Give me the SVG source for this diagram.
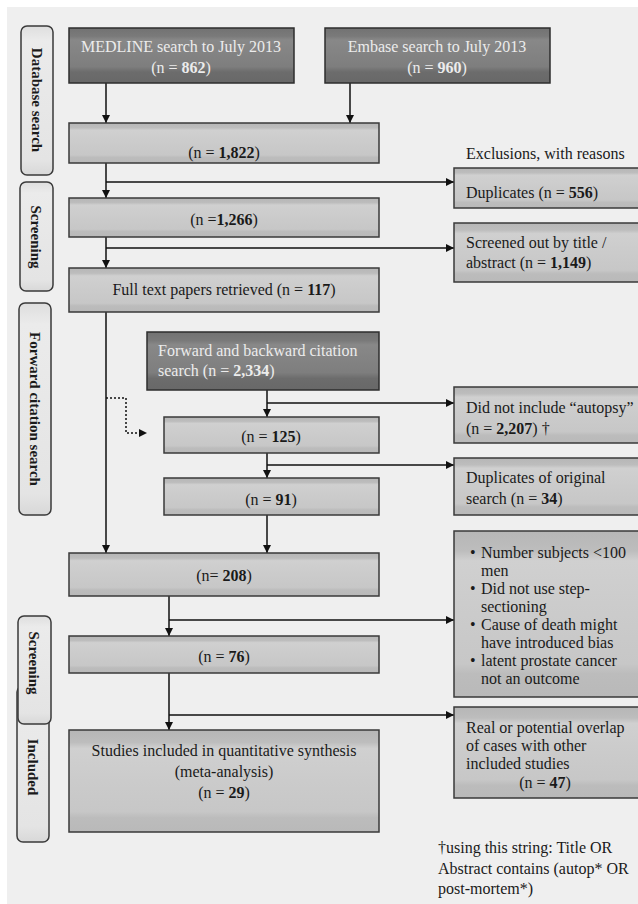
<svg xmlns="http://www.w3.org/2000/svg" width="638" height="904" viewBox="0 0 638 904">
<defs>
<linearGradient id="lg" x1="0" y1="0" x2="0" y2="1">
<stop offset="0" stop-color="#b6b6b6"/><stop offset="0.12" stop-color="#bdbdbd"/><stop offset="0.18" stop-color="#d0d0d0"/><stop offset="0.5" stop-color="#cbcbcb"/><stop offset="0.8" stop-color="#c7c7c7"/><stop offset="0.86" stop-color="#bcbcbc"/><stop offset="1" stop-color="#b9b9b9"/>
</linearGradient>
<linearGradient id="dg" x1="0" y1="0" x2="0" y2="1">
<stop offset="0" stop-color="#727272"/><stop offset="0.15" stop-color="#7a7a7a"/><stop offset="0.22" stop-color="#888888"/><stop offset="0.7" stop-color="#7e7e7e"/><stop offset="0.8" stop-color="#6c6c6c"/><stop offset="1" stop-color="#686868"/>
</linearGradient>
<linearGradient id="sg" x1="0" y1="0" x2="0" y2="1">
<stop offset="0" stop-color="#dedede"/><stop offset="0.1" stop-color="#ebebeb"/><stop offset="0.9" stop-color="#e4e4e4"/><stop offset="1" stop-color="#d8d8d8"/>
</linearGradient>
<marker id="ah" viewBox="0 0 10 10" refX="10" refY="5" markerWidth="8" markerHeight="8" markerUnits="userSpaceOnUse" orient="auto">
<path d="M0,0 L10,5 L0,10 z" fill="#111"/>
</marker>
</defs>
<style>
.bg{fill:#efefef}
.lb{fill:url(#lg);stroke:#3a3a3a;stroke-width:1.5}
.db{fill:url(#dg);stroke:#2e2e2e;stroke-width:1.5}
.sb{fill:url(#sg);stroke:#3a3a3a;stroke-width:1.5}
text{font-family:"Liberation Serif","Times New Roman",serif;font-size:16px;fill:#1a1a1a}
.w{fill:#ececec}
.c{text-anchor:middle}
.side{font-weight:bold;font-size:15px;text-anchor:middle;dominant-baseline:central}
b,.b{font-weight:bold}
.ln{fill:none;stroke:#111;stroke-width:1.5}
.ar{fill:none;stroke:#111;stroke-width:1.5;marker-end:url(#ah)}
.dot{fill:none;stroke:#111;stroke-width:1.5;stroke-dasharray:2,2;marker-end:url(#ah)}
</style>
<rect x="0" y="0" width="638" height="904" fill="#ffffff"/>
<rect class="bg" x="7" y="7" width="631" height="897"/>

<g id="side-labels">
<g id="lbl-database"><rect class="sb" x="21" y="26" width="32" height="149" rx="6"/><text class="side" transform="translate(37,100) rotate(90)">Database search</text></g>
<g id="lbl-screening1"><rect class="sb" x="20" y="182" width="33" height="109" rx="6"/><text class="side" transform="translate(36,237) rotate(90)">Screening</text></g>
<g id="lbl-forward"><rect class="sb" x="19" y="303" width="32" height="212" rx="6"/><text class="side" transform="translate(35,409) rotate(90)">Forward citation search</text></g>
<g id="lbl-included"><rect class="sb" x="17" y="686" width="32" height="156" rx="6"/><text class="side" transform="translate(33,767) rotate(90)">Included</text></g>
<g id="lbl-screening2"><rect class="sb" x="18" y="616" width="33" height="108" rx="6"/><text class="side" transform="translate(34,663) rotate(90)">Screening</text></g>
</g>

<g id="connectors">
<path class="ar" d="M106,83 V123"/>
<path class="ar" d="M350,83 V123"/>
<path class="ar" d="M106,163 V198"/>
<path class="ar" d="M106,182 H454"/>
<path class="ar" d="M106,237 V268"/>
<path class="ar" d="M106,248 H454"/>
<path class="ar" d="M106,312 V553"/>
<path class="dot" d="M106,398 H126 V433 H147"/>
<path class="ar" d="M267,390 V417"/>
<path class="ar" d="M267,403 H454"/>
<path class="ar" d="M267,453 V478"/>
<path class="ar" d="M267,465 H454"/>
<path class="ar" d="M267,515 V553"/>
<path class="ar" d="M169,596 V636"/>
<path class="ar" d="M169,620 H454"/>
<path class="ar" d="M169,673 V730"/>
<path class="ar" d="M169,715 H454"/>
</g>

<g id="medline"><rect class="db" x="69" y="28" width="225" height="55"/><text class="w c" x="181" y="52">MEDLINE search to July 2013</text><text class="w c" x="181" y="73">(n = <tspan class="b">862</tspan>)</text></g>
<g id="embase"><rect class="db" x="325" y="28" width="225" height="55"/><text class="w c" x="437" y="52">Embase search to July 2013</text><text class="w c" x="437" y="73">(n = <tspan class="b">960</tspan>)</text></g>
<g id="n1822"><rect class="lb" x="69" y="123" width="310" height="40"/><text class="c" x="224" y="158">(n = <tspan class="b">1,822</tspan>)</text></g>
<g id="exclusions-title"><text x="466" y="159">Exclusions, with reasons</text></g>
<g id="duplicates"><rect class="lb" x="454" y="168" width="200" height="40"/><text x="466" y="198">Duplicates (n = <tspan class="b">556</tspan>)</text></g>
<g id="n1266"><rect class="lb" x="69" y="198" width="310" height="39"/><text class="c" x="224" y="225">(n =<tspan class="b">1,266</tspan>)</text></g>
<g id="screened-out"><rect class="lb" x="454" y="223" width="200" height="59"/><text x="466" y="248">Screened out by title /</text><text x="466" y="268">abstract (n = <tspan class="b">1,149</tspan>)</text></g>
<g id="fulltext"><rect class="lb" x="69" y="268" width="310" height="44"/><text class="c" x="224" y="295">Full text papers retrieved (n = <tspan class="b">117</tspan>)</text></g>
<g id="forward"><rect class="db" x="147" y="332" width="232" height="58"/><text class="w" x="158" y="356">Forward and backward citation</text><text class="w" x="158" y="376">search (n = <tspan class="b">2,334</tspan>)</text></g>
<g id="not-autopsy"><rect class="lb" x="454" y="387" width="200" height="56"/><text x="466" y="413">Did not include “autopsy”</text><text x="466" y="434">(n = <tspan class="b">2,207</tspan>) †</text></g>
<g id="n125"><rect class="lb" x="164" y="417" width="215" height="36"/><text class="c" x="271" y="442">(n = <tspan class="b">125</tspan>)</text></g>
<g id="dup-original"><rect class="lb" x="454" y="458" width="200" height="57"/><text x="466" y="483">Duplicates of original</text><text x="466" y="504">search (n = <tspan class="b">34</tspan>)</text></g>
<g id="n91"><rect class="lb" x="164" y="478" width="215" height="37"/><text class="c" x="271" y="505">(n = <tspan class="b">91</tspan>)</text></g>
<g id="n208"><rect class="lb" x="69" y="553" width="310" height="43"/><text class="c" x="224" y="581">(n= <tspan class="b">208</tspan>)</text></g>
<g id="criteria"><rect class="lb" x="454" y="531" width="200" height="166"/>
<text x="470" y="558">•</text><text x="481" y="558">Number subjects &lt;100</text><text x="481" y="576">men</text>
<text x="470" y="594">•</text><text x="481" y="594">Did not use step-</text><text x="481" y="612">sectioning</text>
<text x="470" y="630">•</text><text x="481" y="630">Cause of death might</text><text x="481" y="648">have introduced bias</text>
<text x="470" y="666">•</text><text x="481" y="666">latent prostate cancer</text><text x="481" y="684">not an outcome</text></g>
<g id="n76"><rect class="lb" x="69" y="636" width="310" height="37"/><text class="c" x="224" y="662">(n = <tspan class="b">76</tspan>)</text></g>
<g id="included"><rect class="lb" x="69" y="730" width="310" height="102"/><text class="c" x="224" y="756">Studies included in quantitative synthesis</text><text class="c" x="224" y="777">(meta-analysis)</text><text class="c" x="224" y="798">(n = <tspan class="b">29</tspan>)</text></g>
<g id="overlap"><rect class="lb" x="454" y="707" width="200" height="91"/><text x="466" y="733">Real or potential overlap</text><text x="466" y="751">of cases with other</text><text x="466" y="769">included studies</text><text class="c" x="545" y="788">(n = <tspan class="b">47</tspan>)</text></g>
<g id="footnote"><text x="438" y="853">†using this string: Title OR</text><text x="438" y="874">Abstract contains (autop* OR</text><text x="438" y="894">post-mortem*)</text></g>
</svg>
